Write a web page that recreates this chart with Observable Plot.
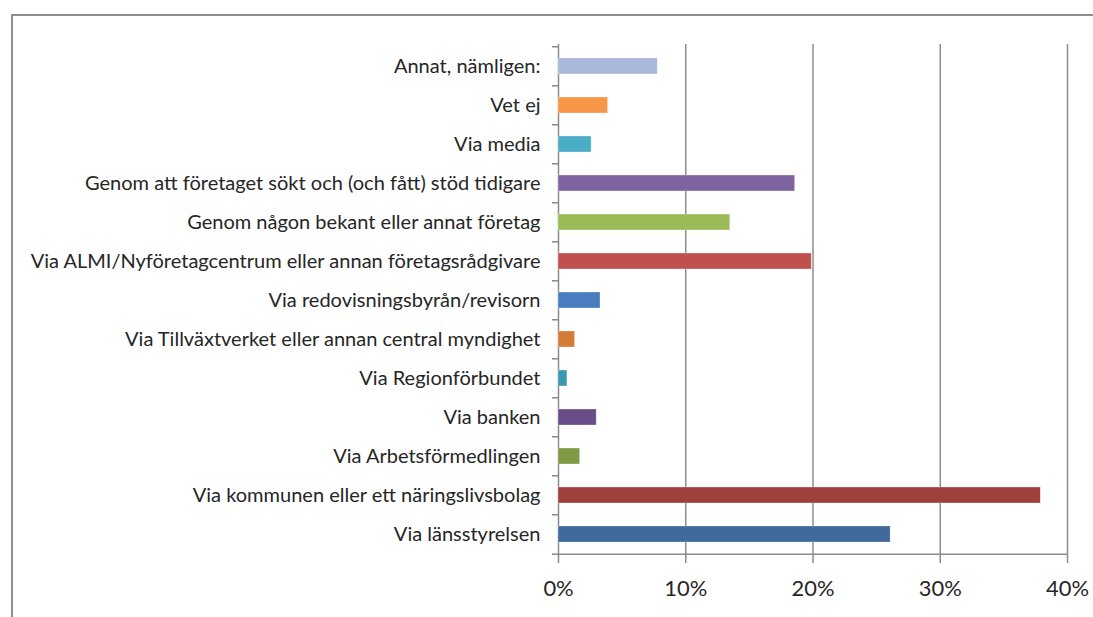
<!DOCTYPE html>
<html>
<head>
<meta charset="utf-8">
<script src="https://cdn.jsdelivr.net/npm/d3@7"></script>
<script src="https://cdn.jsdelivr.net/npm/@observablehq/plot@0.6"></script>
<style>
  html, body { margin: 0; padding: 0; background: #fff; }
  #wrap { position: relative; width: 1093px; height: 617px; overflow: hidden; }
  #border { position: absolute; left: 11px; top: 14px; right: -5px; bottom: -5px;
            border-top: 2px solid #8e8e8e; border-left: 2px solid #8e8e8e; }
  #chart { position: absolute; left: 0; top: 0; }
</style>
</head>
<body>
<div id="wrap"><div id="border"></div><div id="chart"></div></div>
<script>
// Categories, top to bottom as drawn
const categories = [
  "Annat, nämligen:",
  "Vet ej",
  "Via media",
  "Genom att företaget sökt och (och fått) stöd tidigare",
  "Genom någon bekant eller annat företag",
  "Via ALMI/Nyföretagcentrum eller annan företagsrådgivare",
  "Via redovisningsbyrån/revisorn",
  "Via Tillväxtverket eller annan central myndighet",
  "Via Regionförbundet",
  "Via banken",
  "Via Arbetsförmedlingen",
  "Via kommunen eller ett näringslivsbolag",
  "Via länsstyrelsen"
];
// Share (%)
const values = [7.8, 3.9, 2.6, 18.6, 13.5, 19.9, 3.3, 1.3, 0.7, 3.0, 1.7, 37.9, 26.1];
const palette = [
  "#a9b9dc", "#f79646", "#4bacc6", "#8064a2", "#9bbb59", "#c0504d",
  "#4a7ebf", "#d27c37", "#3a99af", "#684d88", "#7e9a47", "#9e413e", "#416a9c"
];
const xTicks = [0, 10, 20, 30, 40];

const data = categories.map((c, i) => ({category: c, value: values[i]}));

const W = 1093, H = 617, mT = 44, mB = 60, mL = 558, mR = 26;
const step = (H - mT - mB) / categories.length;
const grey = "#8c8c8c";
const family = "Lato";

// fit font sizes to the reference's text widths
const ctx = document.createElement("canvas").getContext("2d");
function fit(text, target) {
  ctx.font = `100px ${family}`;
  return 100 * target / ctx.measureText(text).width;
}
const yFont = fit("Genom att företaget sökt och (och fått) stöd tidigare", 456);
const xFont = fit("10%", 43);

const chart = Plot.plot({
  width: W, height: H,
  marginTop: mT, marginBottom: mB, marginLeft: mL, marginRight: mR,
  style: {fontFamily: family, background: "transparent", overflow: "visible"},
  x: {domain: [0, 40], ticks: xTicks},
  y: {domain: categories, paddingInner: 0.58, paddingOuter: 0.29, align: 0.5},
  color: {domain: categories, range: palette},
  marks: [
    Plot.ruleX(xTicks, {stroke: grey, strokeWidth: 1.5}),
    Plot.ruleY([categories[categories.length - 1]], {dy: step / 2, stroke: grey, strokeWidth: 1.5}),
    Plot.barX(data, {x: "value", y: "category", fill: "category", stroke: "#ffffff", strokeOpacity: 0.5, strokeWidth: 0.6}),
    // y-axis labels
    Plot.axisY({tickSize: 0, tickPadding: 18, fontSize: yFont, fill: "#262626", label: null}),
    // y-axis boundary ticks
    Plot.axisY({tickSize: 6, dy: -step / 2, fill: "none", stroke: grey, strokeWidth: 1.5, label: null}),
    Plot.axisY({ticks: [categories[categories.length - 1]], tickSize: 6, dy: step / 2, fill: "none", stroke: grey, strokeWidth: 1.5, label: null}),
    // x axis
    Plot.axisX({ticks: xTicks, tickSize: 6, tickPadding: 17, fontSize: xFont, fill: "#262626", stroke: grey, strokeWidth: 1.5,
                tickFormat: d => d + "%", label: null})
  ]
});
document.getElementById("chart").appendChild(chart);
</script>
</body>
</html>
